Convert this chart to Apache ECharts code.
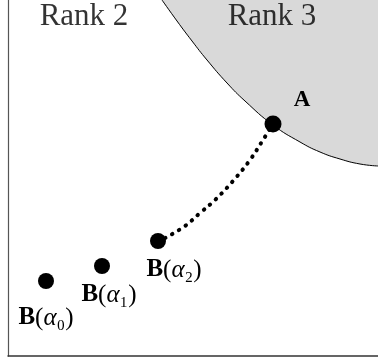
<!DOCTYPE html>
<html>
<head>
<meta charset="utf-8">
<script src="https://cdn.jsdelivr.net/npm/echarts@6/dist/echarts.min.js"></script>
<style>html,body{margin:0;padding:0;background:#fff}#c{width:378px;height:363px}</style>
</head>
<body>
<div id="c"></div>
<script>
// Boundary curve between Rank 2 and Rank 3 regions
const curveX = [154, 169, 184, 199, 219, 237, 265, 292, 312, 332, 352, 370];
const curveY = [356, 335, 315, 296, 273, 255, 231, 214, 204, 197, 192, 190];
// Dotted path from B(alpha2) to A
const pathX = [150, 159, 177, 192, 207, 225, 242, 255, 265];
const pathY = [114, 119, 130, 143, 156, 175, 196, 216, 232];
// Points
const pointNames = ['B(α0)', 'B(α1)', 'B(α2)', 'A'];
const pointX = [38, 94, 150, 265];
const pointY = [75, 90, 115, 232];
// Region labels
const regionNames = ['Rank 2', 'Rank 3'];
const regionX = [76, 264];
const regionY = [339, 339];

const SERIF = '"Liberation Serif", "DejaVu Serif", serif';
const subs = {'0': '₀', '1': '₁', '2': '₂'};
function fmtName(n) {
  const m = n.match(/^B\(α(\d)\)$/);
  if (m) return '{b|B}{n|(}{g|α}{s|' + subs[m[1]] + '}{n|)}';
  return '{a|' + n + '}';
}
const labelOffsets = [[0, 37], [7, 29], [16, 29], [29, -24]];
const symbolSizes = [16, 16, 16, 17];

const rich = {
  a: {fontFamily: SERIF, fontWeight: 'bold', fontSize: 23, color: '#000'},
  b: {fontFamily: SERIF, fontWeight: 'bold', fontSize: 25, color: '#000'},
  n: {fontFamily: SERIF, fontSize: 25, color: '#000'},
  g: {fontFamily: SERIF, fontStyle: 'italic', fontSize: 25, color: '#000'},
  s: {fontFamily: SERIF, fontSize: 25, color: '#000'}
};

const chart = echarts.init(document.getElementById('c'), null, {renderer: 'canvas'});
chart.setOption({
  animation: false,
  backgroundColor: '#fff',
  grid: {left: 8, right: 0, top: 0, bottom: 7},
  xAxis: {type: 'value', min: 0, max: 370,
    axisLine: {show: true, onZero: false, lineStyle: {color: '#333', width: 1.5}},
    axisTick: {show: false}, axisLabel: {show: false}, splitLine: {show: false}},
  yAxis: {type: 'value', min: 0, max: 356,
    axisLine: {show: true, onZero: false, lineStyle: {color: '#555', width: 1.2}},
    axisTick: {show: false}, axisLabel: {show: false}, splitLine: {show: false}},
  series: [
    {type: 'line', data: curveX.map((x, i) => [x, curveY[i]]), smooth: 0.5, symbol: 'none',
      lineStyle: {color: '#000', width: 1}, areaStyle: {color: '#d9d9d9', opacity: 1, origin: 'end'}, z: 1},
    {type: 'line', data: pathX.map((x, i) => [x, pathY[i]]), smooth: 0.4, symbol: 'none',
      lineStyle: {color: '#000', width: 4, type: [0.5, 7.5], cap: 'round'}, z: 2},
    {type: 'scatter', z: 3,
      data: pointX.map((x, i) => ({
        value: [x, pointY[i]], name: pointNames[i], symbolSize: symbolSizes[i],
        label: {show: true, position: 'inside', offset: labelOffsets[i],
          formatter: fmtName(pointNames[i]), rich: rich}
      })),
      itemStyle: {color: '#000', opacity: 1}},
    {type: 'scatter', z: 4, symbolSize: 0,
      data: regionX.map((x, i) => ({value: [x, regionY[i]], name: regionNames[i]})),
      label: {show: true, position: 'inside', formatter: p => p.name,
        fontFamily: SERIF, fontSize: 31, color: '#000'}}
  ]
});
</script>
</body>
</html>
